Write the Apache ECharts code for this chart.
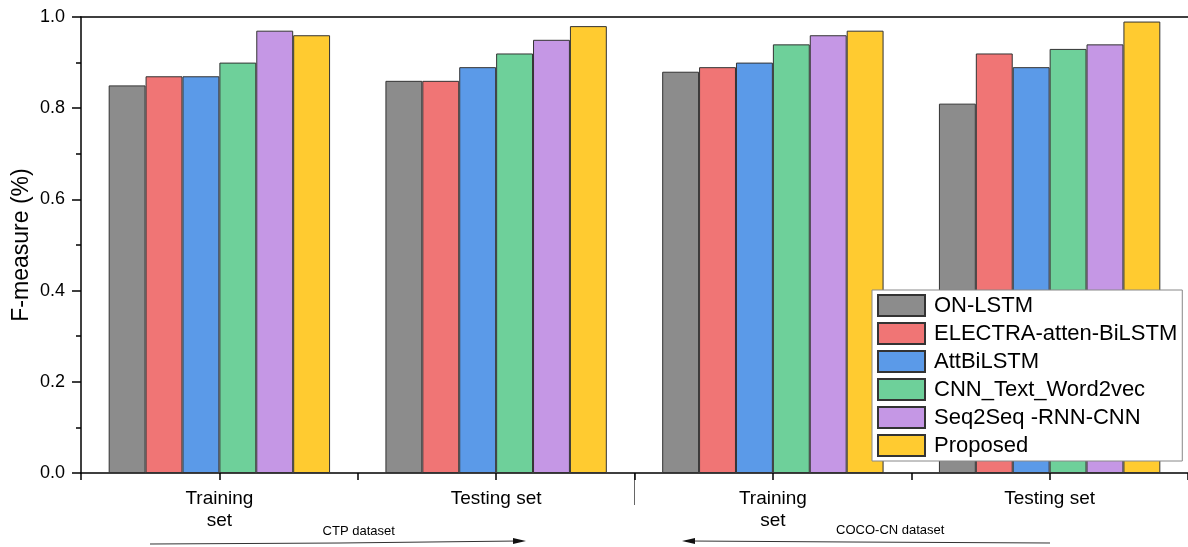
<!DOCTYPE html>
<html>
<head>
<meta charset="utf-8">
<script src="https://cdn.jsdelivr.net/npm/echarts@6/dist/echarts.min.js"></script>
<style>
html,body{margin:0;padding:0;background:#fff;}
#chart{width:1188px;height:547px;}
</style>
</head>
<body>
<div id="chart"></div>
<script>
const categories = ['Training\nset', 'Testing set', 'Training\nset', 'Testing set'];
const seriesNames = ['ON-LSTM', 'ELECTRA-atten-BiLSTM', 'AttBiLSTM', 'CNN_Text_Word2vec', 'Seq2Seq -RNN-CNN', 'Proposed'];
const onLSTM   = [0.85, 0.86, 0.88, 0.81];
const electra  = [0.87, 0.86, 0.89, 0.92];
const attBiLSTM = [0.87, 0.89, 0.90, 0.89];
const cnnText  = [0.90, 0.92, 0.94, 0.93];
const seq2seq  = [0.97, 0.95, 0.96, 0.94];
const proposed = [0.96, 0.98, 0.97, 0.99];
const yTicks = [0.0, 0.2, 0.4, 0.6, 0.8, 1.0];
const colors = ['#8c8c8c', '#f07575', '#5b9ae8', '#6ed09a', '#c597e5', '#ffcb30'];
const seriesData = [onLSTM, electra, attBiLSTM, cnnText, seq2seq, proposed];

const FONT = '"Liberation Sans", Arial, sans-serif';
const chart = echarts.init(document.getElementById('chart'), null, {renderer: 'canvas'});

const option = {
  animation: false,
  backgroundColor: '#fff',
  textStyle: {fontFamily: FONT},
  grid: {left: 81, top: 17, right: 0, bottom: 74, containLabel: false, outerBoundsMode: 'none'},
  legend: {
    orient: 'vertical',
    left: 872, top: 290,
    padding: [4, 5, 4, 5],
    itemWidth: 47, itemHeight: 21, itemGap: 5,
    icon: 'rect',
    backgroundColor: '#fff',
    borderColor: '#888', borderWidth: 1,
    textStyle: {fontFamily: FONT, fontSize: 22, color: '#000', padding: [0, 0, 0, 4]},
    data: seriesNames
  },
  xAxis: [
    {
      type: 'category', data: categories, position: 'bottom',
      axisLine: {show: true, lineStyle: {color: '#000', width: 1.5}},
      axisTick: {show: true, alignWithLabel: true, length: 7, lineStyle: {color: '#000', width: 1.5}},
      axisLabel: {fontFamily: FONT, fontSize: 19, color: '#000', margin: 15, lineHeight: 22, interval: 0},
      splitLine: {show: false}
    },
    {
      type: 'category', data: categories, position: 'bottom',
      axisLine: {show: false},
      axisTick: {show: true, length: 7, lineStyle: {color: '#000', width: 1.5}},
      axisLabel: {show: false}, splitLine: {show: false}
    },
    {
      type: 'category', data: categories, position: 'top',
      axisLine: {show: true, lineStyle: {color: '#000', width: 1.5}},
      axisTick: {show: false}, axisLabel: {show: false}, splitLine: {show: false}
    }
  ],
  yAxis: [
    {
      type: 'value', min: 0, max: 1.0, interval: 0.2,
      name: 'F-measure (%)', nameLocation: 'middle', nameGap: 48, nameMoveOverlap: false,
      nameTextStyle: {fontFamily: FONT, fontSize: 23, color: '#000'},
      axisLine: {show: true, lineStyle: {color: '#000', width: 1.5}},
      axisTick: {show: true, length: 9, lineStyle: {color: '#000', width: 1.5}},
      minorTick: {show: true, splitNumber: 2, length: 5, lineStyle: {color: '#000', width: 1.5}},
      axisLabel: {fontFamily: FONT, fontSize: 18, color: '#000', margin: 16,
        formatter: v => v.toFixed(1)},
      splitLine: {show: false}
    },
    {
      type: 'value', min: 0, max: 1.0, interval: 0.2, position: 'right',
      axisLine: {show: true, lineStyle: {color: '#aaa', width: 1}},
      axisTick: {show: false}, axisLabel: {show: false}, splitLine: {show: false}
    }
  ],
  series: seriesNames.map((name, i) => ({
    name, type: 'bar', data: seriesData[i],
    xAxisIndex: 0, yAxisIndex: 0,
    barGap: '0%', barCategoryGap: '20%',
    itemStyle: {color: colors[i], borderColor: '#333', borderWidth: 1}
  }))
};
chart.setOption(option);

// decorations: long separator tick, dataset annotations with arrows
const y0 = chart.convertToPixel({yAxisIndex: 0}, 0);
const xC0 = chart.convertToPixel({xAxisIndex: 0}, 0);
const xC1 = chart.convertToPixel({xAxisIndex: 0}, 1);
const xC2 = chart.convertToPixel({xAxisIndex: 0}, 2);
const xC3 = chart.convertToPixel({xAxisIndex: 0}, 3);
const sep = (xC1 + xC2) / 2;
chart.setOption({
  graphic: [
    {type: 'line', shape: {x1: sep, y1: y0, x2: sep, y2: y0 + 32}, style: {stroke: '#666', lineWidth: 1}},
    {type: 'text', x: (xC0 + xC1) / 2 + 1, y: y0 + 58, style: {text: 'CTP dataset', font: '13px ' + FONT, fill: '#000', textAlign: 'center', textVerticalAlign: 'middle'}},
    {type: 'text', x: (xC2 + xC3) / 2 - 21, y: y0 + 57, style: {text: 'COCO-CN dataset', font: '13px ' + FONT, fill: '#000', textAlign: 'center', textVerticalAlign: 'middle'}},
    {type: 'polyline', shape: {points: [[150, 544], [340, 543], [518, 541]]}, style: {stroke: '#333', lineWidth: 1, fill: null}},
    {type: 'polygon', shape: {points: [[526, 541], [513, 538], [513, 544]]}, style: {fill: '#111'}},
    {type: 'polyline', shape: {points: [[690, 541], [850, 542], [1050, 543]]}, style: {stroke: '#333', lineWidth: 1, fill: null}},
    {type: 'polygon', shape: {points: [[682, 541], [695, 538], [695, 544]]}, style: {fill: '#111'}}
  ]
});
</script>
</body>
</html>
